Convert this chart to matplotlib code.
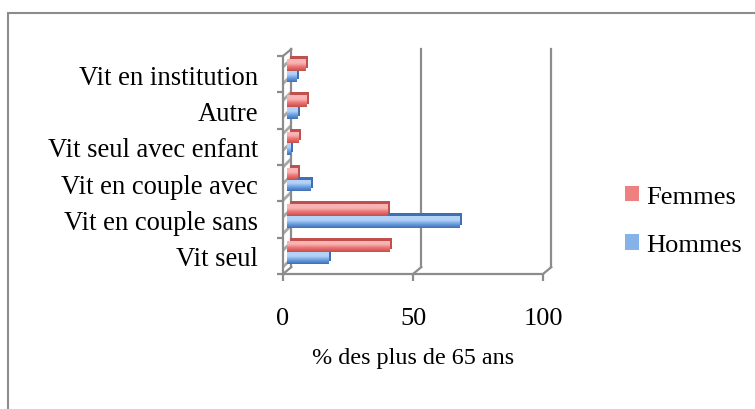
import numpy as np
import matplotlib.pyplot as plt
import matplotlib.transforms as mtransforms
from matplotlib.patches import Polygon, Rectangle, Patch
from matplotlib.colors import LinearSegmentedColormap

# Données
categories = ['Vit seul', 'Vit en couple sans', 'Vit en couple avec',
              'Vit seul avec enfant', 'Autre', 'Vit en institution']
femmes = [39.5, 38.5, 4, 4.5, 7.5, 7]
hommes = [16, 66.5, 9, 1.2, 4, 3.8]
series_names = ['Femmes', 'Hommes']
x_ticks = [0, 50, 100]
x_label = '% des plus de 65 ans'

plt.rcParams['font.family'] = ['Liberation Serif', 'DejaVu Serif']

fig = plt.figure(figsize=(7.55, 4.10), dpi=100)
ax = fig.add_axes([283 / 755, 135 / 410, 260 / 755, 218 / 410])

grid_col = '#8c8c8c'
DX, DY = 3.2, 0.19  # profondeur de la "boite 3D" (unités de données)

# Mur gauche hachuré
plt.rcParams['hatch.linewidth'] = 2.0
wall = Polygon([(0, -0.5), (DX, -0.5 + DY), (DX, 5.5 + DY), (0, 5.5)],
               closed=True, facecolor='white', edgecolor='#a8a8a8',
               hatch='//', lw=0, clip_on=False, zorder=1)
ax.add_patch(wall)
ax.plot([DX, DX], [-0.5 + DY, 5.5 + DY], color=grid_col, lw=1.6, clip_on=False, zorder=1.5)
ax.plot([0, DX], [5.5, 5.5 + DY], color=grid_col, lw=1.6, clip_on=False, zorder=1.5)
ax.plot([0, DX], [-0.5, -0.5 + DY], color=grid_col, lw=1.6, clip_on=False, zorder=1.5)

# Quadrillage du fond + plancher
for v in x_ticks[1:]:
    ax.plot([v + DX, v + DX], [-0.5 + DY, 5.5 + DY], color=grid_col, lw=1.6,
            clip_on=False, zorder=1)
    ax.plot([v, v + DX], [-0.5, -0.5 + DY], color=grid_col, lw=1.6,
            clip_on=False, zorder=1)

# Barres avec un petit effet 3D + dégradé
y = np.arange(len(categories))
h = 0.32
face_off = mtransforms.ScaledTranslation(0.035, 0.035, fig.dpi_scale_trans)
side_off = mtransforms.ScaledTranslation(0.065, 0.065, fig.dpi_scale_trans)
grad = np.linspace(0, 1, 64).reshape(-1, 1)


def draw_series(vals, ypos, top, bottom, side):
    ax.barh(ypos, vals, height=h, color=side, lw=0,
            transform=ax.transData + side_off, zorder=3)
    bars = ax.barh(ypos, vals, height=h, color=bottom, lw=0,
                   transform=ax.transData + face_off, zorder=4)
    cmap = LinearSegmentedColormap.from_list('g', [side, bottom, top, top])
    for b in bars:
        x0, y0 = b.get_x(), b.get_y()
        im = ax.imshow(grad, extent=[x0, x0 + b.get_width(), y0, y0 + b.get_height()],
                       origin='lower', cmap=cmap, aspect='auto', zorder=4.5,
                       interpolation='bilinear')
        im.set_transform(ax.transData + face_off)
        im.set_clip_path(b)


draw_series(femmes, y + h / 2, '#f8b4b4', '#eb6e6e', '#c0504d')
draw_series(hommes, y - h / 2, '#b4d2f6', '#6a9de0', '#3f6fb5')

ax.set_xlim(0, 100)
ax.set_ylim(-0.5, 5.5)

# Axes
for s in ['top', 'right']:
    ax.spines[s].set_visible(False)
for s in ['left', 'bottom']:
    ax.spines[s].set_color(grid_col)
    ax.spines[s].set_linewidth(1.6)
    ax.spines[s].set_zorder(2)

ax.set_xticks(x_ticks)
ax.set_xticklabels([str(t) for t in x_ticks], fontsize=19)
ax.tick_params(axis='x', length=5, width=1.6, color=grid_col, pad=19)

ax.set_yticks(y)
ax.set_yticklabels(categories, fontsize=19.2)
ax.set_yticks(np.arange(-0.5, 6, 1), minor=True)
ax.tick_params(axis='y', which='major', length=0, pad=18)
ax.tick_params(axis='y', which='minor', length=4, width=1.6, color=grid_col)

ax.set_xlabel(x_label, fontsize=17.4, labelpad=13)

handles = [Patch(facecolor='#ee8080', edgecolor='none'),
           Patch(facecolor='#86b2ea', edgecolor='none')]
fig.legend(handles, series_names, loc='center left',
           bbox_to_anchor=(601 / 755, 1 - 222 / 410), frameon=False,
           fontsize=19, handlelength=0.55, handleheight=0.55,
           handletextpad=0.25, labelspacing=1.0)

# Cadre extérieur
fig.patches.append(Rectangle((8 / 755, -0.1), 1.2, 1.1 - 14 / 410,
                             transform=fig.transFigure, fill=False,
                             edgecolor=grid_col, lw=1.5))

fig.savefig('out.png', dpi=100)
